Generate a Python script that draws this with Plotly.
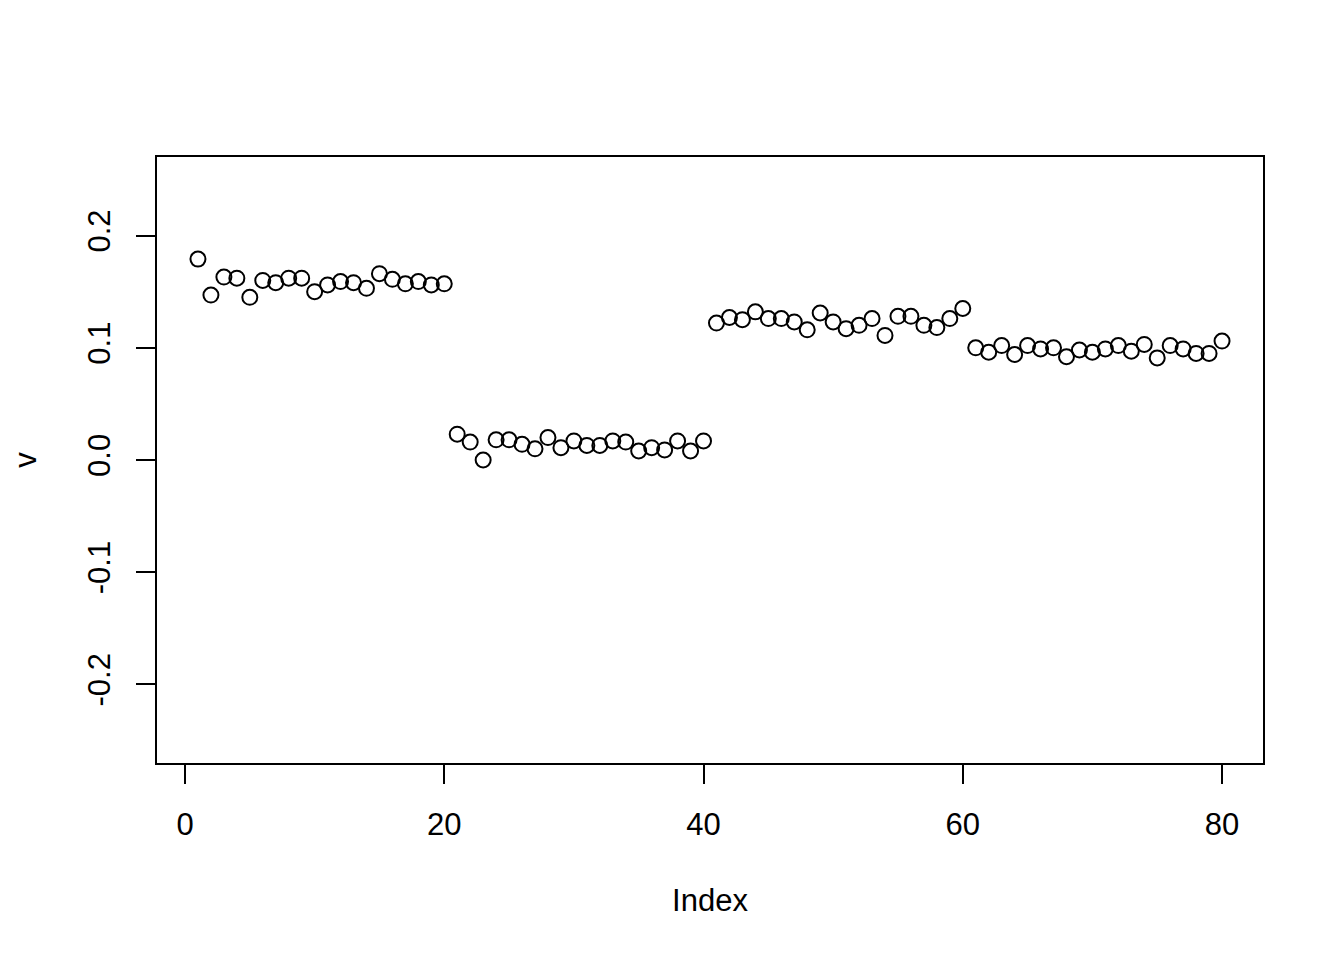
"""Index plot of v (R-style base graphics look)."""

import plotly.graph_objects as go

V = [
    0.179, 0.147, 0.163, 0.162, 0.145, 0.160, 0.158, 0.162, 0.162, 0.150,
    0.156, 0.159, 0.158, 0.153, 0.166, 0.161, 0.157, 0.159, 0.156, 0.157,
    0.023, 0.016, 0.000, 0.018, 0.018, 0.014, 0.010, 0.020, 0.011, 0.017,
    0.013, 0.013, 0.017, 0.016, 0.008, 0.011, 0.009, 0.017, 0.008, 0.017,
    0.122, 0.127, 0.125, 0.132, 0.126, 0.126, 0.123, 0.116, 0.131, 0.123,
    0.117, 0.120, 0.126, 0.111, 0.128, 0.128, 0.120, 0.118, 0.126, 0.135,
    0.100, 0.096, 0.102, 0.094, 0.102, 0.099, 0.100, 0.092, 0.098, 0.096,
    0.099, 0.102, 0.097, 0.103, 0.091, 0.102, 0.099, 0.095, 0.095, 0.106,
]
INDEX = list(range(1, len(V) + 1))

X_TICKS = [0, 20, 40, 60, 80]
Y_TICKS = [-0.2, -0.1, 0.0, 0.1, 0.2]
Y_LABELS = ["-0.2", "-0.1", "0.0", "0.1", "0.2"]

FONT = "Liberation Sans, Arial, Helvetica, sans-serif"


def main() -> None:
    fig = go.Figure(
        go.Scatter(
            x=INDEX,
            y=V,
            mode="markers",
            marker=dict(
                symbol="circle-open",
                size=15,
                color="black",
                line=dict(color="black", width=2),
            ),
            showlegend=False,
        )
    )

    axis_common = dict(
        showgrid=False,
        zeroline=False,
        showline=True,
        mirror=True,
        linecolor="black",
        linewidth=1.5,
        ticks="outside",
        ticklen=19,
        tickwidth=1.5,
        tickcolor="black",
        tickfont=dict(size=31, color="black", family=FONT),
        title_font=dict(size=31, color="black", family=FONT),
    )

    fig.update_xaxes(
        range=[-2.16, 83.16],
        tickmode="array",
        tickvals=X_TICKS,
        title_text="Index",
        title_standoff=48,
        ticklabelstandoff=14,
        **axis_common,
    )
    fig.update_yaxes(
        range=[-0.27, 0.27],
        tickmode="array",
        tickvals=Y_TICKS,
        ticktext=Y_LABELS,
        tickangle=-90,
        title_text="v",
        title_standoff=40,
        ticklabelstandoff=14,
        **axis_common,
    )

    # page body adds an 8px offset, so margins are shifted to compensate
    fig.update_layout(
        width=1344,
        height=960,
        plot_bgcolor="white",
        paper_bgcolor="white",
        margin=dict(l=149, r=89, t=149, b=205, autoexpand=False),
        font=dict(family=FONT, size=31, color="black"),
    )

    fig.write_html("out.html")


if __name__ == "__main__":
    main()
